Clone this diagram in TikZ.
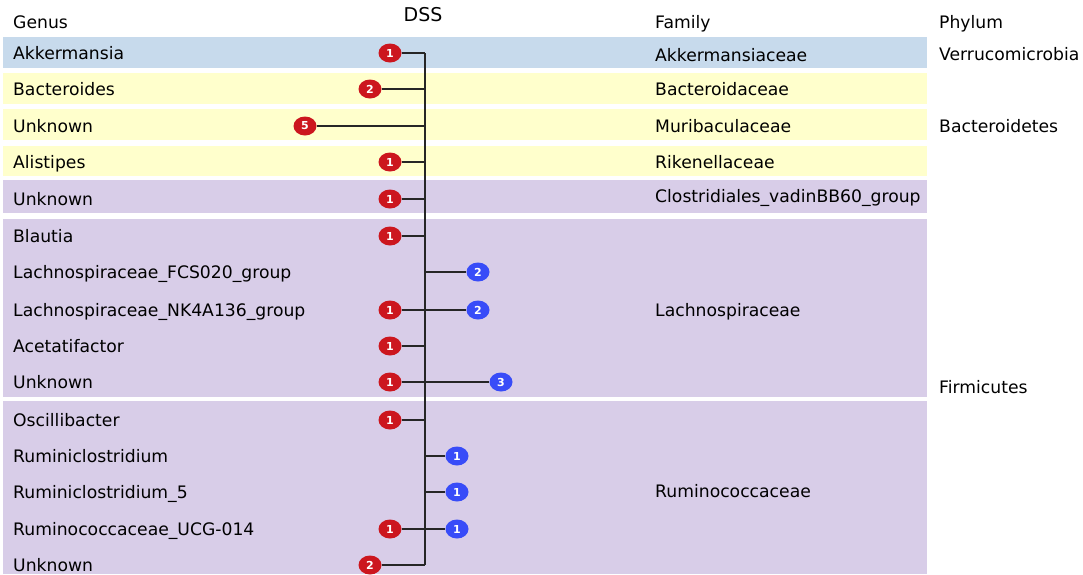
\documentclass[tikz,border=0pt]{standalone}
\usepackage{fontspec}
\setmainfont{DejaVu Sans}
\usetikzlibrary{shapes.geometric}

\definecolor{bandblue}{RGB}{199,218,236}
\definecolor{bandyellow}{RGB}{255,255,204}
\definecolor{bandpurple}{RGB}{216,205,232}
\definecolor{dssred}{RGB}{204,22,30}
\definecolor{dssblue}{RGB}{56,76,248}

\tikzset{
  lbl/.style={anchor=base west, yshift=-6pt, inner sep=0pt, font=\fontsize{17.2}{20}\selectfont},
  hits/.style={ellipse, draw=none, fill=#1, minimum width=23pt, minimum height=19pt, inner sep=0pt,
    text=white, font=\fontsize{11}{11}\selectfont\bfseries},
  stub/.style={draw=black!85, line width=1.1pt}
}

\begin{document}
\begin{tikzpicture}[x=1pt,y=1pt,yscale=-1,xscale=1]
        \useasboundingbox (0,0) rectangle (1083,574);

        %Shape: Bands
        \fill [bandblue] (3,37) rectangle (927,68);
        \fill [bandyellow] (3,73) rectangle (927,104);
        \fill [bandyellow] (3,109) rectangle (927,140);
        \fill [bandyellow] (3,146) rectangle (927,176);
        \fill [bandpurple] (3,180) rectangle (927,213);
        \fill [bandpurple] (3,219) rectangle (927,397);
        \fill [bandpurple] (3,401) rectangle (927,574);

        %Headers
        \node [lbl] (genus) at (13,22) {Genus};
        \node [font=\fontsize{19}{22}\selectfont, inner sep=0pt] (dss) at (423,15) {DSS};
        \node [lbl] (family) at (655,22) {Family};
        \node [lbl] (phylum) at (939,22) {Phylum};

        %Genus column
        \node [lbl] (g0) at (13,53) {Akkermansia};
        \node [lbl] (g1) at (13,89) {Bacteroides};
        \node [lbl] (g2) at (13,126) {Unknown};
        \node [lbl] (g3) at (13,162) {Alistipes};
        \node [lbl] (g4) at (13,199) {Unknown};
        \node [lbl] (g5) at (13,236) {Blautia};
        \node [lbl] (g6) at (13,272) {Lachnospiraceae\_FCS020\_group};
        \node [lbl] (g7) at (13,310) {Lachnospiraceae\_NK4A136\_group};
        \node [lbl] (g8) at (13,346) {Acetatifactor};
        \node [lbl] (g9) at (13,382) {Unknown};
        \node [lbl] (g10) at (13,420) {Oscillibacter};
        \node [lbl] (g11) at (13,456) {Ruminiclostridium};
        \node [lbl] (g12) at (13,492) {Ruminiclostridium\_5};
        \node [lbl] (g13) at (13,529) {Ruminococcaceae\_UCG-014};
        \node [lbl] (g14) at (13,565) {Unknown};

        %Family column
        \node [lbl] (f0) at (655,55) {Akkermansiaceae};
        \node [lbl] (f1) at (655,89) {Bacteroidaceae};
        \node [lbl] (f2) at (655,126) {Muribaculaceae};
        \node [lbl] (f3) at (655,162) {Rikenellaceae};
        \node [lbl] (f4) at (655,196) {Clostridiales\_vadinBB60\_group};
        \node [lbl] (f5) at (655,310) {Lachnospiraceae};
        \node [lbl] (f6) at (655,491) {Ruminococcaceae};

        %Phylum column
        \node [lbl] (p0) at (939,54) {Verrucomicrobia};
        \node [lbl] (p1) at (939,126) {Bacteroidetes};
        \node [lbl] (p2) at (939,387) {Firmicutes};

        %Spine points
        \coordinate (s0) at (425,53);
        \coordinate (s1) at (425,89);
        \coordinate (s2) at (425,126);
        \coordinate (s3) at (425,162);
        \coordinate (s4) at (425,199);
        \coordinate (s5) at (425,236);
        \coordinate (s6) at (425,272);
        \coordinate (s7) at (425,310);
        \coordinate (s8) at (425,346);
        \coordinate (s9) at (425,382);
        \coordinate (s10) at (425,420);
        \coordinate (s11) at (425,456);
        \coordinate (s12) at (425,492);
        \coordinate (s13) at (425,529);
        \coordinate (s14) at (425,565);

        %Straight Lines: spine
        \draw [stub] (s0) -- (s14);

        %Shape: Red counts
        \node [hits=dssred] (r0) at (390,53) {1};
        \node [hits=dssred] (r1) at (370,89) {2};
        \node [hits=dssred] (r2) at (305,126) {5};
        \node [hits=dssred] (r3) at (390,162) {1};
        \node [hits=dssred] (r4) at (390,199) {1};
        \node [hits=dssred] (r5) at (390,236) {1};
        \node [hits=dssred] (r7) at (390,310) {1};
        \node [hits=dssred] (r8) at (390,346) {1};
        \node [hits=dssred] (r9) at (390,382) {1};
        \node [hits=dssred] (r10) at (390,420) {1};
        \node [hits=dssred] (r13) at (390,529) {1};
        \node [hits=dssred] (r14) at (370,565) {2};

        %Shape: Blue counts
        \node [hits=dssblue] (b6) at (478,272) {2};
        \node [hits=dssblue] (b7) at (478,310) {2};
        \node [hits=dssblue] (b9) at (501,382) {3};
        \node [hits=dssblue] (b11) at (457,456) {1};
        \node [hits=dssblue] (b12) at (457,492) {1};
        \node [hits=dssblue] (b13) at (457,529) {1};

        %Straight Lines: left stubs
        \draw [stub] (r0) -- (s0);
        \draw [stub] (r1) -- (s1);
        \draw [stub] (r2) -- (s2);
        \draw [stub] (r3) -- (s3);
        \draw [stub] (r4) -- (s4);
        \draw [stub] (r5) -- (s5);
        \draw [stub] (r7) -- (s7);
        \draw [stub] (r8) -- (s8);
        \draw [stub] (r9) -- (s9);
        \draw [stub] (r10) -- (s10);
        \draw [stub] (r13) -- (s13);
        \draw [stub] (r14) -- (s14);

        %Straight Lines: right stubs
        \draw [stub] (s6) -- (b6);
        \draw [stub] (s7) -- (b7);
        \draw [stub] (s9) -- (b9);
        \draw [stub] (s11) -- (b11);
        \draw [stub] (s12) -- (b12);
        \draw [stub] (s13) -- (b13);
    \end{tikzpicture}
\end{document}
